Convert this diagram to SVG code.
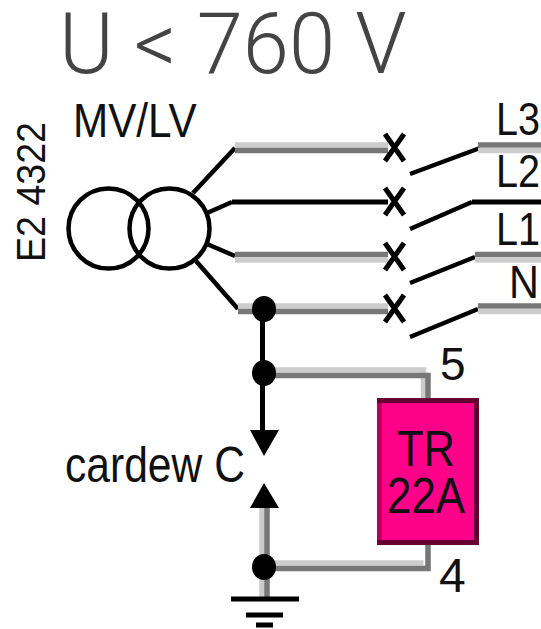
<svg xmlns="http://www.w3.org/2000/svg" width="541" height="629" viewBox="0 0 541 629">
<style>
text{font-family:"Liberation Sans",Arial,sans-serif;fill:#111}
.k{fill:none;stroke:#000;stroke-width:5}
.d{fill:none;stroke:#777;stroke-width:5.5}
.l{fill:none;stroke:#ccc;stroke-width:5.5}
.t{fill:none;stroke:#000;stroke-width:4.5}
.x{fill:none;stroke:#000;stroke-width:5}
.dot{fill:#000}
</style>
<rect width="541" height="629" fill="#fff"/>
<g id="title"><text transform="translate(59,73) scale(.967,1)" font-size="86" style="font-family:Roboto,'Liberation Sans',sans-serif;font-weight:300;fill:#444">U &lt; 760 V</text></g>
<g id="transformer">
<circle cx="108.500" cy="228.500" r="40" class="t"/>
<circle cx="169.500" cy="228.500" r="40" class="t"/>
<text transform="translate(73,137) scale(.88,1)" font-size="48">MV/LV</text>
<text transform="translate(45,262) rotate(-90) scale(.94,1)" font-size="40">E2 4322</text>
</g>
<g id="connectors">
<path class="t" d="M193 193L235 148M207 213L232 202M207 244L235 256M196 261L238 309"/>
<path class="l" d="M235 145H388"/><path class="d" d="M235 150.500H388"/>
<path class="k" d="M232 202H388"/>
<path class="d" d="M235 254.500H388"/><path class="l" d="M235 260H388"/>
<path class="l" d="M238 306H388"/><path class="d" d="M238 311.500H388"/>
<path class="t" d="M410 174L480 148M410 229L472 202M410 283L475 257M410 337L478 309"/>
<path class="d" d="M478 145H541"/><path class="l" d="M478 150.500H541"/>
<path class="k" d="M472 202H541"/>
<path class="d" d="M475 254.500H541"/><path class="l" d="M475 260H541"/>
<path class="d" d="M478 306H541"/><path class="l" d="M478 311.500H541"/>
<path class="k" d="M262.500 309V435"/>
<path class="l" d="M264 370H423.500V398"/><path class="d" d="M264 375.500H428V398"/>
<path class="l" d="M262 508V563"/><path class="d" d="M267 508V563"/>
<path class="l" d="M264 563H423.500"/><path class="d" d="M264 568.500H428V545"/>
<path class="l" d="M262 570V597"/><path class="d" d="M267 570V597"/>
</g>
<g id="switches"><path class="x" d="M385 134L404 161M404 134L385 161M385 188L404 215M404 188L385 215M385 243L404 270M404 243L385 270M385 295L404 322M404 295L385 322"/></g>
<g id="junctions">
<ellipse class="dot" cx="264" cy="309" rx="12" ry="13"/>
<ellipse class="dot" cx="264" cy="373" rx="12" ry="13"/>
<ellipse class="dot" cx="264" cy="567" rx="12" ry="13"/>
</g>
<g id="gap">
<path class="dot" d="M250 430H279L264 456Z"/>
<path class="dot" d="M250 508H279L264 483Z"/>
<text transform="translate(65,482) scale(.852,1)" font-size="50">cardew C</text>
</g>
<g id="relay">
<rect x="377" y="398" width="102" height="147" fill="#ff0088"/>
<path d="M379.500 545V400.500" fill="none" stroke="#b80060" stroke-width="5"/>
<path d="M377 400.500H476.500V542.500H377" fill="none" stroke="#660033" stroke-width="5"/>
<text transform="translate(397,466) scale(.87,1)" font-size="50">TR</text>
<text transform="translate(387,513) scale(.877,1)" font-size="50">22A</text>
</g>
<g id="labels">
<text transform="translate(496,135) scale(.86,1)" font-size="46">L3</text>
<text transform="translate(496,187) scale(.86,1)" font-size="46">L2</text>
<text transform="translate(496,245) scale(.86,1)" font-size="46">L1</text>
<text transform="translate(509,298) scale(.9,1)" font-size="46">N</text>
<text x="440" y="380" font-size="46">5</text>
<text x="439" y="592" font-size="48">4</text>
</g>
<g id="ground">
<path fill="none" stroke="#000" stroke-width="5" d="M231 599H299M246 615H283M256 625H273"/>
</g>
</svg>
